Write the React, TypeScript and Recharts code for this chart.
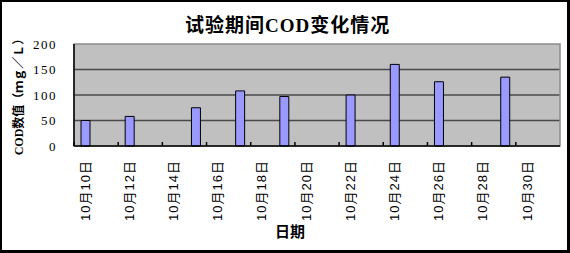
import { BarChart, Bar, XAxis, YAxis, CartesianGrid, ReferenceArea } from 'recharts';

const dates = [
  '10月10日', '10月11日', '10月12日', '10月13日', '10月14日', '10月15日',
  '10月16日', '10月17日', '10月18日', '10月19日', '10月20日', '10月21日',
  '10月22日', '10月23日', '10月24日', '10月25日', '10月26日', '10月27日',
  '10月28日', '10月29日', '10月30日', '10月31日',
];
const cod = [
  50, null, 58, null, null, 75, null, 108, null, 97, null, null,
  100, null, 160, null, 126, null, null, 135, null, null,
];
const yTicks = [0, 50, 100, 150, 200];

const chartData = dates.map((d, i) => ({ date: d, cod: cod[i] }));

const HALF_SLOT = 11.05;

const DateTick = ({ x, y, payload }: any) => (
  <g>
    <line x1={x - HALF_SLOT} y1={y} x2={x - HALF_SLOT} y2={y - 4} stroke="#000" strokeWidth={1.5} />
    <text
      x={x}
      y={y + 14}
      transform={`rotate(-90, ${x}, ${y + 14})`}
      textAnchor="end"
      dy="0.36em"
      fontSize={13}
      letterSpacing={1}
      fontFamily="'Liberation Sans', 'Noto Sans CJK SC', sans-serif"
      fill="#000"
    >
      {payload.value}
    </text>
  </g>
);

const App = () => {
  return (
    <div
      style={{
        position: 'absolute',
        left: 0,
        top: 0,
        width: 570,
        height: 253,
        boxSizing: 'border-box',
        borderStyle: 'solid',
        borderColor: '#000',
        borderWidth: '2px 3px 3px 2px',
        background: '#fff',
      }}
    >
      <div
        style={{
          position: 'absolute',
          left: 0,
          top: 0,
          width: 570,
          height: 253,
          marginLeft: -2,
          marginTop: -2,
        }}
      >
        <BarChart
          width={570}
          height={253}
          data={chartData}
          margin={{ top: 44, right: 10, left: 0, bottom: 17 }}
          barCategoryGap={0}
        >
          <CartesianGrid
            vertical={false}
            horizontalValues={[50, 100, 150]}
            stroke="#4a4a4a"
            strokeWidth={1.5}
            fill="#c0c0c0"
            fillOpacity={1}
          />
          <ReferenceArea y1={0} y2={200} fill="none" stroke="#8c8c8c" strokeWidth={1.5} />
          <XAxis
            dataKey="date"
            interval={1}
            height={90}
            tickSize={0}
            tickMargin={0}
            tickLine={false}
            axisLine={{ stroke: '#000', strokeWidth: 1.5 }}
            tick={<DateTick />}
          />
          <YAxis
            width={74}
            domain={[0, 200]}
            ticks={yTicks}
            tickLine={false}
            tickMargin={11}
            axisLine={{ stroke: '#000', strokeWidth: 1.5 }}
            tick={{
              fill: '#000',
              fontSize: 13,
              letterSpacing: 1.5,
              fontFamily: "'Liberation Serif', serif",
            }}
          />
          <Bar
            dataKey="cod"
            fill="#9999ff"
            stroke="#000"
            strokeWidth={1}
            barSize={9}
            isAnimationActive={false}
          />
        </BarChart>
      </div>
      <div
        style={{
          position: 'absolute',
          left: 183,
          top: 12,
          width: 200,
          textAlign: 'center',
          fontSize: 19,
          fontWeight: 'bold',
          letterSpacing: 1,
          fontFamily: "'Liberation Serif', 'Noto Sans CJK SC', serif",
          lineHeight: '24px',
          whiteSpace: 'nowrap',
        }}
      >
        试验期间COD变化情况
      </div>
      <div
        style={{
          position: 'absolute',
          left: 17,
          top: 92,
          width: 140,
          height: 16,
          marginLeft: -70,
          marginTop: -8,
          transform: 'rotate(-90deg)',
          textAlign: 'center',
          fontSize: 12,
          fontWeight: 'bold',
          fontFamily: "'Liberation Serif', 'Noto Sans CJK SC', serif",
          lineHeight: '16px',
          whiteSpace: 'nowrap',
        }}
      >
        COD数值（ｍｇ／Ｌ）
      </div>
      <div
        style={{
          position: 'absolute',
          left: 248,
          top: 219,
          width: 80,
          textAlign: 'center',
          fontSize: 15,
          fontWeight: 'bold',
          fontFamily: "'Noto Sans CJK SC', sans-serif",
          lineHeight: '20px',
        }}
      >
        日期
      </div>
    </div>
  );
};

export default App;
